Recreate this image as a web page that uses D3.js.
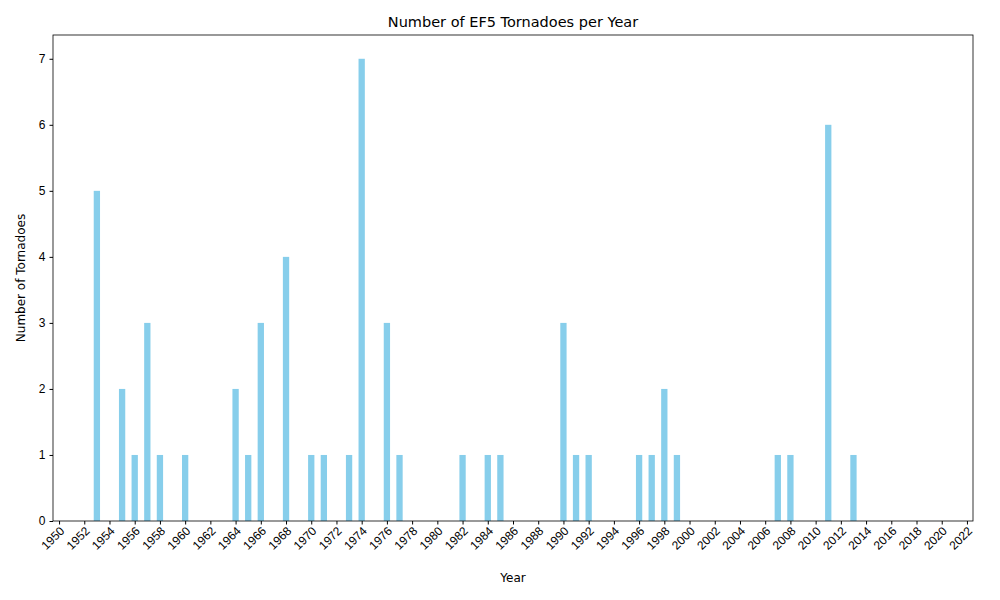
<!DOCTYPE html>
<html><head><meta charset="utf-8">
<script src="https://cdn.jsdelivr.net/npm/d3@7"></script>
<style>body{margin:0;background:#fff;font-family:"DejaVu Sans",sans-serif}</style>
</head><body><svg id="c" width="1000" height="600"></svg>
<script>
const years = [1953,1955,1956,1957,1958,1960,1964,1965,1966,1968,1970,1971,1973,1974,1976,1977,1982,1984,1985,1990,1991,1992,1996,1997,1998,1999,2007,2008,2011,2013];
const counts = [5,2,1,3,1,1,2,1,3,4,1,1,1,7,3,1,1,1,1,3,1,1,1,1,2,1,1,1,6,1];
const xTicks = d3.range(1950, 2023, 2);
const yTicks = [0,1,2,3,4,5,6,7];

const svg = d3.select("#c");
const L=53,R=973,T=35,B=521;
const x = d3.scaleLinear().domain([1949.52,2022.48]).range([L,R]);
const y = d3.scaleLinear().domain([0,7.36]).range([B,T]);
const bw = x(1950.5)-x(1950);

svg.selectAll("rect.bar").data(years).enter().append("rect")
  .attr("x",(d)=>x(d)-bw/2).attr("width",bw)
  .attr("y",(d,i)=>y(counts[i])).attr("height",(d,i)=>B-y(counts[i]))
  .attr("fill","#87ceeb");

const xa = svg.append("g").attr("transform",`translate(0,${B})`)
  .call(d3.axisBottom(x).tickValues(xTicks).tickFormat(d3.format("d")).tickSize(3.5).tickPadding(2));
xa.selectAll("text").attr("font-size",12).attr("fill","#000")
  .attr("text-anchor","end").attr("dx","-0.3em").attr("dy","0.5em")
  .attr("transform","rotate(-45)");
const ya = svg.append("g").attr("transform",`translate(${L},0)`)
  .call(d3.axisLeft(y).tickValues(yTicks).tickSize(3.5).tickPadding(4));
ya.selectAll("text").attr("font-size",12).attr("fill","#000");
svg.selectAll(".domain").remove();
svg.append("rect").attr("x",L).attr("y",T).attr("width",R-L).attr("height",B-T)
  .attr("fill","none").attr("stroke","#000").attr("stroke-width",0.8);

svg.append("text").attr("x",(L+R)/2).attr("y",27).attr("text-anchor","middle")
  .attr("font-size",14.5).text("Number of EF5 Tornadoes per Year");
svg.append("text").attr("x",(L+R)/2).attr("y",582).attr("text-anchor","middle")
  .attr("font-size",12).text("Year");
svg.append("text").attr("transform",`translate(25,${(T+B)/2}) rotate(-90)`).attr("text-anchor","middle")
  .attr("font-size",12).text("Number of Tornadoes");
</script></body></html>
